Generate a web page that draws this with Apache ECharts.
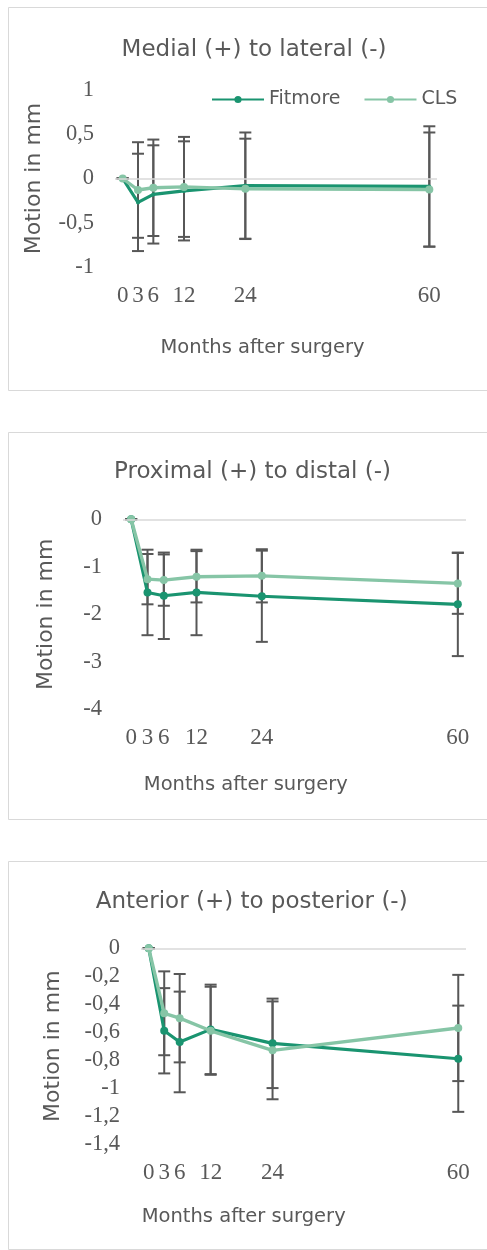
<!DOCTYPE html>
<html>
<head>
<meta charset="utf-8">
<script src="https://cdn.jsdelivr.net/npm/echarts@6/dist/echarts.min.js"></script>
<style>
html,body{margin:0;padding:0;background:#fff;}
#c{width:487px;height:1250px;}
</style>
</head>
<body>
<div id="c"></div>
<script>
// ---- data ----
var months = [0, 3, 6, 12, 24, 60];
var xTickLabels = ['0', '3', '6', '12', '24', '60'];

var titles = ['Medial (+) to lateral (-)', 'Proximal (+) to distal (-)', 'Anterior (+) to posterior (-)'];
var seriesNames = ['Fitmore', 'CLS'];

var mlFitmore   = [0, -0.27, -0.18, -0.14, -0.08, -0.09];
var mlFitmoreSd = [0, 0.55, 0.555, 0.56, 0.60, 0.68];
var mlCls       = [0, -0.13, -0.105, -0.095, -0.117, -0.125];
var mlClsSd     = [0, 0.54, 0.545, 0.565, 0.567, 0.645];

var pdFitmore   = [0, -1.54, -1.61, -1.54, -1.62, -1.79];
var pdFitmoreSd = [0, 0.90, 0.91, 0.90, 0.96, 1.09];
var pdCls       = [0, -1.26, -1.28, -1.21, -1.19, -1.35];
var pdClsSd     = [0, 0.53, 0.54, 0.54, 0.56, 0.64];

var apFitmore   = [0, -0.59, -0.67, -0.58, -0.68, -0.79];
var apFitmoreSd = [0, 0.305, 0.36, 0.32, 0.32, 0.38];
var apCls       = [0, -0.465, -0.50, -0.59, -0.73, -0.57];
var apClsSd     = [0, 0.30, 0.316, 0.315, 0.35, 0.38];

var yRanges = [[-1, 1, 0.5], [-4, 0, 1], [-1.4, 0, 0.2]];

// ---- styles ----
var C_FIT = '#1a9470';
var C_CLS = '#86c5a6';
var C_TXT = '#595959';
var C_ERR = '#575757';
var SANS = 'DejaVu Sans';
var SERIF = 'Liberation Serif';

var panels = [
  {fit: mlFitmore, fitSd: mlFitmoreSd, cls: mlCls, clsSd: mlClsSd, fitSym: 4},
  {fit: pdFitmore, fitSd: pdFitmoreSd, cls: pdCls, clsSd: pdClsSd, fitSym: 8},
  {fit: apFitmore, fitSd: apFitmoreSd, cls: apCls, clsSd: apClsSd, fitSym: 8}
];

var grids = [
  {left: 115, top: 90, width: 322, height: 177},
  {left: 123, top: 519.3, width: 343, height: 190},
  {left: 141, top: 948.3, width: 325, height: 195.7}
];
var yNameGap = [70, 66, 77];
var titlePos = [[254, 50], [252.5, 471.7], [251.7, 901.7]];
var xNamePos = [[262.5, 348], [245.8, 785], [243.7, 1217]];
var boxes = [[8, 7, 383], [8, 432, 387], [8, 861, 388]];

function pairs(xs, ys) { return xs.map(function (x, i) { return [x, ys[i]]; }); }
function errData(xs, ys, sd) { return xs.map(function (x, i) { return [x, ys[i] - sd[i], ys[i] + sd[i]]; }); }

function renderErr(params, api) {
  var x = api.value(0), lo = api.value(1), hi = api.value(2);
  var a = api.coord([x, lo]), b = api.coord([x, hi]);
  var hw = 6;
  var st = {stroke: C_ERR, lineWidth: 2, fill: null};
  return {type: 'group', children: [
    {type: 'line', shape: {x1: a[0], y1: a[1], x2: b[0], y2: b[1]}, style: st},
    {type: 'line', shape: {x1: a[0] - hw, y1: a[1], x2: a[0] + hw, y2: a[1]}, style: st},
    {type: 'line', shape: {x1: b[0] - hw, y1: b[1], x2: b[0] + hw, y2: b[1]}, style: st}
  ]};
}

function fmtNum(v) {
  var r = Math.round(v * 10) / 10;
  return String(r).replace('.', ',');
}

var option = {
  animation: false,
  backgroundColor: '#fff',
  title: [],
  grid: [],
  xAxis: [],
  yAxis: [],
  series: [],
  graphic: [],
  legend: {
    data: [
      {name: 'Fitmore'},
      {name: 'CLS'}
    ],
    left: 211, top: 90,
    padding: 0,
    itemWidth: 52, itemHeight: 9, itemGap: 23,
    textStyle: {fontFamily: SANS, fontSize: 19, color: C_TXT, padding: [0, 0, 0, 0]}
  }
};

panels.forEach(function (p, k) {
  var g = grids[k];
  option.grid.push({left: g.left, top: g.top, width: g.width, height: g.height, containLabel: false});
  option.title.push({
    text: titles[k], left: titlePos[k][0], top: titlePos[k][1], padding: 0,
    textAlign: 'center', textVerticalAlign: 'middle',
    textStyle: {fontFamily: SANS, fontSize: 23, fontWeight: 'normal', color: C_TXT}
  });
  option.title.push({
    text: 'Months after surgery', left: xNamePos[k][0], top: xNamePos[k][1], padding: 0,
    textAlign: 'center', textVerticalAlign: 'middle',
    textStyle: {fontFamily: SANS, fontSize: 19.5, fontWeight: 'normal', color: C_TXT}
  });
  option.xAxis.push({
    type: 'value', gridIndex: k, min: -1.5, max: 61.5, interval: 1.5,
    axisLine: {show: false}, axisTick: {show: false}, splitLine: {show: false},
    axisLabel: {
      margin: 17, fontFamily: SERIF, fontSize: 23, color: C_TXT,
      showMinLabel: true, showMaxLabel: true,
      formatter: function (v) {
        var i = months.indexOf(Math.round(v * 10) / 10);
        return i >= 0 ? xTickLabels[i] : '';
      }
    }
  });
  option.yAxis.push({
    type: 'value', gridIndex: k, min: yRanges[k][0], max: yRanges[k][1], interval: yRanges[k][2],
    axisLine: {show: false}, axisTick: {show: false}, splitLine: {show: false},
    axisLabel: {margin: 21, fontFamily: SERIF, fontSize: 22.5, color: C_TXT, formatter: fmtNum},
    name: 'Motion in mm', nameLocation: 'middle', nameGap: yNameGap[k],
    nameTextStyle: {fontFamily: SANS, fontSize: 22, color: C_TXT}
  });
  option.graphic.push({
    type: 'rect', silent: true, z: -10,
    shape: {x: boxes[k][0] + 0.5, y: boxes[k][1] + 0.5, width: 500, height: boxes[k][2]},
    style: {fill: null, stroke: '#d9d9d9', lineWidth: 1}
  });
  // zero line
  option.series.push({
    type: 'line', name: 'zero' + k, xAxisIndex: k, yAxisIndex: k, data: [], z: 1, silent: true,
    markLine: {silent: true, symbol: ['none', 'none'], label: {show: false},
      lineStyle: {color: '#d9d9d9', width: 1.5, type: 'solid'}, data: [{yAxis: 0}]}
  });
  option.series.push({
    type: 'custom', name: 'Fitmore SD ' + k, xAxisIndex: k, yAxisIndex: k, z: 2, silent: true,
    renderItem: renderErr, encode: {x: 0, y: [1, 2]}, data: errData(months, p.fit, p.fitSd)
  });
  option.series.push({
    type: 'custom', name: 'CLS SD ' + k, xAxisIndex: k, yAxisIndex: k, z: 2, silent: true,
    renderItem: renderErr, encode: {x: 0, y: [1, 2]}, data: errData(months, p.cls, p.clsSd)
  });
  option.series.push({
    type: 'line', name: 'Fitmore', xAxisIndex: k, yAxisIndex: k, z: 3,
    data: pairs(months, p.fit), symbol: 'circle', symbolSize: p.fitSym, showSymbol: true,
    lineStyle: {color: C_FIT, width: 3.2}, itemStyle: {color: C_FIT}
  });
  option.series.push({
    type: 'line', name: 'CLS', xAxisIndex: k, yAxisIndex: k, z: 4,
    data: pairs(months, p.cls), symbol: 'circle', symbolSize: 8, showSymbol: true,
    lineStyle: {color: C_CLS, width: 3.4}, itemStyle: {color: C_CLS}
  });
});

var chart = echarts.init(document.getElementById('c'), null, {renderer: 'canvas'});
chart.setOption(option);
</script>
</body>
</html>
